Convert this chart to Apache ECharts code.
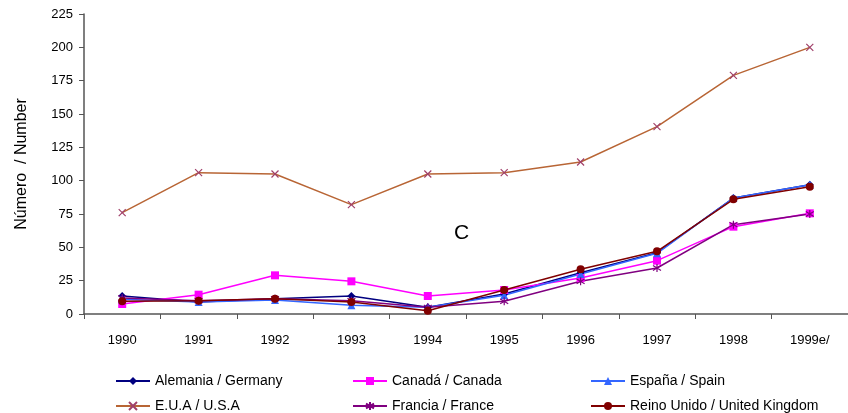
<!DOCTYPE html>
<html><head><meta charset="utf-8">
<script src="https://cdn.jsdelivr.net/npm/echarts@6/dist/echarts.min.js"></script>
<style>html,body{margin:0;padding:0;background:#fff}#c{width:848px;height:413px}</style>
</head><body><div id="c"></div>
<script>
const years = ['1990','1991','1992','1993','1994','1995','1996','1997','1998','1999e/'];
const germany = [13.5, 9, 11.5, 13.5, 5, 15, 31, 46, 87, 97];
const canada  = [7.5, 14.5, 29, 24.5, 13.5, 18, 27, 40, 65.5, 75.5];
const spain   = [11, 9, 10.5, 6.5, 5, 14, 30, 45.5, 87, 97];
const usa     = [76, 106, 105, 82, 105, 106, 114, 140.5, 179, 200];
const france  = [12, 10, 11.5, 10, 5, 9.5, 24.5, 34.5, 67, 75];
const uk      = [9.5, 10, 11.5, 9, 2.5, 18, 33.5, 47, 86, 95.5];
const yTicks = [0, 25, 50, 75, 100, 125, 150, 175, 200, 225];

const names = ['Alemania / Germany','Canadá / Canada','España / Spain','E.U.A / U.S.A','Francia / France','Reino Unido / United Kingdom'];
const datas = [germany, canada, spain, usa, france, uk];
const colors = ['#000080','#FF00FF','#3366FF','#B86535','#800080','#800000'];
const markColors = ['#000080','#FF00FF','#3366FF','#A0406A','#800080','#800000'];
const symbols = ['diamond','rect','triangle','path://M0,0L10,10M10,0L0,10','path://M5,0L5,10M0,2L10,8M0,8L10,2','circle'];
const sizes = [8,8,8,7,8,8];

const series = names.map((n,i)=>({
  name:n, type:'line', data:datas[i], symbol:symbols[i], symbolSize:sizes[i],
  lineStyle:{color:colors[i], width:1.5},
  itemStyle:{color:markColors[i], borderColor:markColors[i], borderWidth:(i===3||i===4)?1.2:0},
  z: i===5?5:2
}));

const legPos = [[115,374],[352,374],[590,374],[115,399],[352,399],[590,399]];
const legends = names.map((n,i)=>({
  data:[n], left:legPos[i][0], top:legPos[i][1], itemWidth:34, itemHeight:10, itemGap:4, padding:0,
  textStyle:{fontFamily:'"Liberation Sans", Arial', fontSize:14, color:'#000', padding:[0,0,0,0]}
}));

const chart = echarts.init(document.getElementById('c'));
chart.setOption({
  animation:false,
  textStyle:{fontFamily:'"Liberation Sans", Arial'},
  grid:{left:84, right:0, top:14, bottom:99},
  legend: legends,
  xAxis:{type:'category', data:years, boundaryGap:true,
    axisLine:{lineStyle:{color:'#555', width:1.5}},
    axisTick:{show:true, length:5, lineStyle:{color:'#555'}},
    axisLabel:{color:'#000', fontSize:13, margin:20}},
  yAxis:{type:'value', min:0, max:225, interval:25,
    name:'Número  / Number', nameLocation:'middle', nameGap:54, nameRotate:90,
    nameTextStyle:{fontSize:16, color:'#000'},
    axisLine:{show:true, lineStyle:{color:'#555', width:1.5}},
    axisTick:{show:true, length:5, lineStyle:{color:'#555'}},
    axisLabel:{color:'#000', fontSize:13, margin:11},
    splitLine:{show:false}},
  graphic:[{type:'text', left:454, top:223, style:{text:'C', fontSize:21, fill:'#000', fontFamily:'"Liberation Sans", Arial'}}],
  series: series
});
</script></body></html>
